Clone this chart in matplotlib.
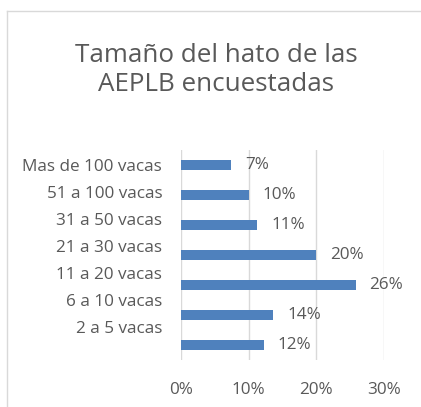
import matplotlib.pyplot as plt
from matplotlib.lines import Line2D

categories = ["Mas de 100 vacas", "51 a 100 vacas", "31 a 50 vacas", "21 a 30 vacas",
              "11 a 20 vacas", "6 a 10 vacas", "2 a 5 vacas"]
values = [0.074, 0.10, 0.113, 0.20, 0.258, 0.136, 0.122]
xticks = [0, 0.1, 0.2, 0.3]
xticklabels = ["0%", "10%", "20%", "30%"]

plt.rcParams['font.family'] = ['Open Sans', 'DejaVu Sans']
gray = "#595959"

W, H = 421, 407
fig = plt.figure(figsize=(W / 100, H / 100), dpi=100)
ax = fig.add_axes([181 / W, 1 - 360 / H, (384 - 181) / W, (360 - 150) / H])

y = list(range(len(values)))
bars = ax.barh(y, values, height=0.34, color="#4f81bd", zorder=3)
ax.set_ylim(len(values) - 0.5, -0.5)
ax.set_xlim(0, 0.3)

for b, v in zip(bars, values):
    ax.annotate(f"{v * 100:.0f}%", xy=(b.get_width(), b.get_y() + b.get_height() / 2),
                xytext=(14, 0), textcoords="offset pixels",
                ha="left", va="center", fontsize=12.3, color=gray)

# category labels are spaced slightly tighter than the bars (as in the source)
ax.set_yticks([i * 0.9 for i in y])
ax.set_yticklabels(categories, fontsize=12.3, color=gray)
ax.set_xticks(xticks)
ax.set_xticklabels(xticklabels, fontsize=12.3, color=gray)
ax.tick_params(length=0)
ax.tick_params(axis="y", pad=13.5)
ax.tick_params(axis="x", pad=16)
ax.grid(axis="x", color="#d9d9d9", linewidth=1, zorder=0)
for s in ax.spines.values():
    s.set_visible(False)

fig.text(216 / W, 1 - 70 / H, "Tamaño del hato de las\nAEPLB encuestadas",
         ha="center", va="center", fontsize=18.7, color=gray, linespacing=1.25)

fig.add_artist(Line2D([7 / W, 7 / W], [0, 1 - 11 / H], transform=fig.transFigure,
                      color="#d9d9d9", linewidth=1))
fig.add_artist(Line2D([7 / W, 1], [1 - 11 / H, 1 - 11 / H], transform=fig.transFigure,
                      color="#d9d9d9", linewidth=1))

fig.savefig("out.png", dpi=100)
